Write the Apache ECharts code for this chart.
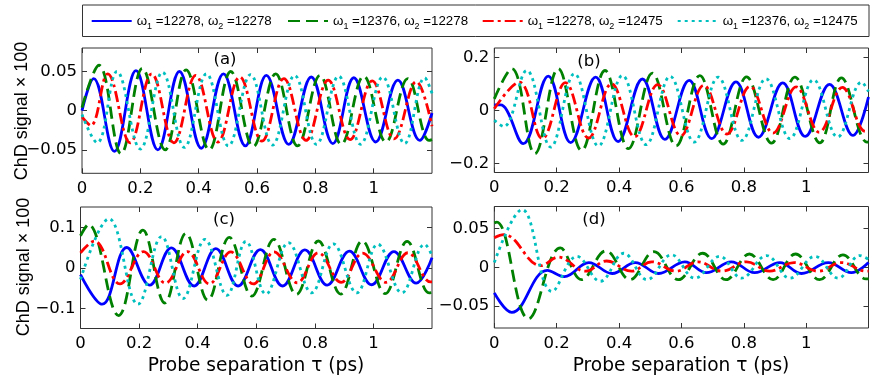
<!DOCTYPE html>
<html><head><meta charset="utf-8">
<script src="https://cdn.jsdelivr.net/npm/echarts@6/dist/echarts.min.js"></script>
<style>html,body{margin:0;padding:0;background:#fff}#c{width:875px;height:383px}</style>
</head><body><div id="c"></div>
<script>
// ---- data (tau in ps, ChD signal x 100) ----
const seriesNames = ['ω1 =12278, ω2 =12278', 'ω1 =12376, ω2 =12278', 'ω1 =12278, ω2 =12475', 'ω1 =12376, ω2 =12475'];
const panelLabels = ['(a)', '(b)', '(c)', '(d)'];
const xTicks = [0, 0.2, 0.4, 0.6, 0.8, 1];
const yTicksA = [-0.05, 0, 0.05];
const yTicksB = [-0.2, 0, 0.2];
const yTicksC = [-0.1, 0, 0.1];
const yTicksD = [-0.05, 0, 0.05];
const xTitle = 'Probe separation τ (ps)';
const yTitle = 'ChD signal × 100';

const aBlue = [[0,0.0],[0.04,0.041],[0.111,-0.052],[0.185,0.051],[0.26,-0.05],[0.334,0.05],[0.409,-0.048],[0.485,0.047],[0.56,-0.045],[0.632,0.045],[0.709,-0.043],[0.786,0.043],[0.86,-0.042],[0.932,0.042],[1.007,-0.04],[1.083,0.039],[1.158,-0.038],[1.2,-0.003]];
const aGreen = [[0,0.004],[0.058,0.058],[0.134,-0.055],[0.207,0.054],[0.285,-0.05],[0.357,0.052],[0.436,-0.05],[0.51,0.05],[0.587,-0.046],[0.664,0.047],[0.739,-0.045],[0.816,0.045],[0.889,-0.043],[0.966,0.044],[1.042,-0.04],[1.117,0.041],[1.19,-0.038],[1.2,-0.037]];
const aRed = [[0,-0.008],[0.03,-0.019],[0.088,0.047],[0.165,-0.041],[0.239,0.047],[0.315,-0.041],[0.39,0.045],[0.466,-0.04],[0.541,0.043],[0.617,-0.039],[0.692,0.041],[0.768,-0.038],[0.844,0.039],[0.919,-0.037],[0.995,0.038],[1.07,-0.036],[1.146,0.037],[1.2,-0.02]];
const aCyan = [[0,-0.005],[0.052,-0.041],[0.12,0.05],[0.2,-0.049],[0.276,0.049],[0.351,-0.047],[0.427,0.047],[0.502,-0.045],[0.578,0.046],[0.653,-0.044],[0.729,0.045],[0.804,-0.043],[0.88,0.044],[0.955,-0.043],[1.031,0.043],[1.106,-0.042],[1.175,0.042],[1.2,0.022]];

const bBlue = [[0,0.02],[0.02,0.02],[0.04,0.0],[0.093,-0.126],[0.173,0.129],[0.245,-0.122],[0.325,0.125],[0.397,-0.118],[0.475,0.118],[0.547,-0.11],[0.625,0.113],[0.697,-0.107],[0.775,0.107],[0.847,-0.102],[0.925,0.103],[0.997,-0.099],[1.075,0.098],[1.15,-0.095],[1.2,0.05]];
const bGreen = [[0,0.043],[0.056,0.157],[0.13,-0.164],[0.205,0.157],[0.28,-0.152],[0.355,0.15],[0.43,-0.145],[0.507,0.14],[0.583,-0.135],[0.659,0.131],[0.734,-0.128],[0.809,0.126],[0.889,-0.124],[0.964,0.125],[1.044,-0.123],[1.113,0.122],[1.195,-0.12],[1.2,-0.119]];
const bRed = [[0,0.006],[0.08,0.106],[0.154,-0.107],[0.228,0.104],[0.302,-0.105],[0.376,0.1],[0.45,-0.1],[0.524,0.097],[0.598,-0.096],[0.672,0.094],[0.746,-0.09],[0.82,0.09],[0.894,-0.086],[0.968,0.088],[1.042,-0.083],[1.116,0.086],[1.19,-0.08],[1.2,-0.079]];
const bCyan = [[0,-0.038],[0.03,-0.062],[0.104,0.15],[0.181,-0.139],[0.257,0.138],[0.334,-0.135],[0.411,0.131],[0.487,-0.13],[0.564,0.128],[0.641,-0.12],[0.718,0.125],[0.794,-0.114],[0.871,0.119],[0.948,-0.107],[1.024,0.115],[1.101,-0.101],[1.178,0.106],[1.2,0.07]];

const cBlue = [[0,-0.017],[0.074,-0.09],[0.158,0.05],[0.236,-0.043],[0.31,0.049],[0.388,-0.045],[0.462,0.047],[0.538,-0.045],[0.614,0.045],[0.69,-0.045],[0.766,0.044],[0.842,-0.043],[0.918,0.041],[0.994,-0.042],[1.07,0.04],[1.146,-0.038],[1.2,0.025]];
const cGreen = [[0,0.079],[0.027,0.107],[0.13,-0.118],[0.213,0.093],[0.288,-0.087],[0.36,0.085],[0.435,-0.08],[0.508,0.075],[0.585,-0.07],[0.66,0.07],[0.737,-0.066],[0.812,0.066],[0.888,-0.065],[0.962,0.066],[1.04,-0.064],[1.115,0.065],[1.19,-0.062],[1.2,-0.061]];
const cRed = [[0,0.037],[0.047,0.066],[0.135,-0.04],[0.215,0.04],[0.29,-0.038],[0.365,0.04],[0.44,-0.04],[0.513,0.039],[0.59,-0.04],[0.661,0.039],[0.74,-0.037],[0.812,0.037],[0.89,-0.036],[0.963,0.036],[1.043,-0.036],[1.118,0.037],[1.195,-0.035],[1.2,-0.035]];
const cCyan = [[0,-0.029],[0.097,0.121],[0.196,-0.09],[0.277,0.077],[0.35,-0.076],[0.425,0.07],[0.5,-0.068],[0.565,0.065],[0.633,-0.065],[0.71,0.062],[0.789,-0.062],[0.863,0.059],[0.943,-0.062],[1.015,0.058],[1.097,-0.062],[1.175,0.058],[1.2,0.03]];

const dBlue = [[0,-0.033],[0.056,-0.058],[0.17,-0.004],[0.225,-0.012],[0.303,0.006],[0.378,-0.008],[0.452,0.006],[0.527,-0.008],[0.611,0.007],[0.68,-0.007],[0.76,0.007],[0.835,-0.007],[0.916,0.006],[0.985,-0.008],[1.071,0.006],[1.145,-0.007],[1.2,0.006]];
const dGreen = [[0,0.057],[0.008,0.058],[0.11,-0.066],[0.212,0.025],[0.28,-0.016],[0.358,0.021],[0.435,-0.016],[0.512,0.02],[0.59,-0.016],[0.668,0.018],[0.743,-0.016],[0.818,0.017],[0.894,-0.016],[0.966,0.017],[1.043,-0.016],[1.118,0.016],[1.192,-0.015],[1.2,-0.015]];
const dRed = [[0,0.038],[0.03,0.042],[0.15,0.002],[0.205,0.013],[0.292,-0.005],[0.36,0.008],[0.44,-0.005],[0.505,0.007],[0.583,-0.005],[0.653,0.007],[0.73,-0.005],[0.809,0.007],[0.883,-0.005],[0.961,0.006],[1.038,-0.005],[1.113,0.006],[1.194,-0.005],[1.2,-0.005]];
const dCyan = [[0,0.006],[0.089,0.074],[0.185,-0.031],[0.265,0.014],[0.34,-0.018],[0.415,0.018],[0.49,-0.016],[0.568,0.016],[0.643,-0.014],[0.723,0.014],[0.793,-0.014],[0.873,0.015],[0.948,-0.014],[1.028,0.014],[1.103,-0.014],[1.172,0.015],[1.2,0.01]];

// ---- chart ----
const panelData = [[aBlue, aGreen, aRed, aCyan], [bBlue, bGreen, bRed, bCyan], [cBlue, cGreen, cRed, cCyan], [dBlue, dGreen, dRed, dCyan]];
const yTicks = [yTicksA, yTicksB, yTicksC, yTicksD];
const yLim = [0.08, 0.235, 0.15, 0.078];
const axisColor = '#333';
const gridBox = {show: true, borderColor: axisColor, borderWidth: 1, backgroundColor: 'transparent'};
const grids = [
  Object.assign({left: 82, top: 48, width: 350, height: 125.3}, gridBox),
  Object.assign({left: 494.3, top: 48, width: 374.2, height: 124.5}, gridBox),
  Object.assign({left: 80.5, top: 207, width: 351.5, height: 121.5}, gridBox),
  Object.assign({left: 494.3, top: 206.5, width: 374.2, height: 121.5}, gridBox)
];
const colors = ['#0000ff', '#008000', '#ff0000', '#00bfbf'];
const dashes = ['solid', [12, 6], [11, 4, 3, 4], [3, 4]];
const tickFont = {fontFamily: 'DejaVu Sans', fontSize: 16.5, color: '#000'};
const fmt = v => v === 0 ? '0' : (v < 0 ? '\u2212' + String(+(-v).toFixed(4)) : String(+v.toFixed(4)));

const xAxes = [], yAxes = [], series = [];
grids.forEach((g, i) => {
  const common = {gridIndex: i, type: 'value', splitLine: {show: false},
    axisLine: {show: false, onZero: false}};
  const tick = vals => ({inside: true, length: 5, customValues: vals, lineStyle: {color: axisColor}});
  xAxes.push(Object.assign({}, common, {position: 'bottom', min: 0, max: 1.2, axisTick: tick(xTicks),
    axisLabel: Object.assign({customValues: xTicks, formatter: fmt, margin: 7}, tickFont)}));
  xAxes.push(Object.assign({}, common, {position: 'top', min: 0, max: 1.2, axisTick: tick(xTicks),
    axisLabel: {show: false}}));
  yAxes.push(Object.assign({}, common, {position: 'left', min: -yLim[i], max: yLim[i], axisTick: tick(yTicks[i]),
    axisLabel: Object.assign({customValues: yTicks[i], formatter: fmt, margin: 5}, tickFont)}));
  yAxes.push(Object.assign({}, common, {position: 'right', min: -yLim[i], max: yLim[i], axisTick: tick(yTicks[i]),
    axisLabel: {show: false}}));
  panelData[i].forEach((d, k) => {
    series.push({type: 'line', name: seriesNames[k], data: d, xAxisIndex: 2 * i, yAxisIndex: 2 * i,
      symbol: 'none', smooth: 0.4, animation: false, silent: true, z: 2 + k,
      lineStyle: {color: colors[k], width: 2.8, type: dashes[k], cap: 'butt'},
      itemStyle: {color: colors[k]}});
  });
});

const legendLeft = [90.7, 287, 481.7, 676.7];
const legends = seriesNames.map((n, k) => ({
  data: [n], left: legendLeft[k], top: 11, padding: 0, itemWidth: 40, itemHeight: 14, itemGap: 0,
  selectedMode: false,
  itemStyle: {opacity: 0},
  formatter: name => name.replace(/ω(\d)/g, 'ω{s|$1}'),
  textStyle: {fontFamily: 'Liberation Sans', fontSize: 13.3, color: '#000', lineHeight: 20,
    rich: {s: {fontFamily: 'Liberation Sans', fontSize: 9, lineHeight: 12, verticalAlign: 'bottom', color: '#000'}}}
}));

const txt = (s, x, y, size, family, rot) => ({type: 'text', x: x, y: y, rotation: rot || 0, z: 100,
  style: {text: s, fontFamily: family, fontSize: size, fill: '#000', align: 'center', verticalAlign: 'middle'}});

const graphic = [
  {type: 'rect', shape: {x: 82.5, y: 5, width: 786.5, height: 31.5}, style: {fill: '#fff', stroke: axisColor, lineWidth: 1}, z: -1},
  txt(yTitle, 22, 111, 18, 'Liberation Sans', Math.PI / 2),
  txt(yTitle, 24, 267, 18, 'Liberation Sans', Math.PI / 2),
  txt(xTitle, 256, 366, 18.6, 'DejaVu Sans'),
  txt(xTitle, 681, 366, 18.6, 'DejaVu Sans'),
  txt(panelLabels[0], 225, 60, 16.5, 'DejaVu Sans'),
  txt(panelLabels[1], 589, 62, 16.5, 'DejaVu Sans'),
  txt(panelLabels[2], 224, 220, 16.5, 'DejaVu Sans'),
  txt(panelLabels[3], 594, 220, 16.5, 'DejaVu Sans')
];

const chart = echarts.init(document.getElementById('c'), null, {renderer: 'canvas'});
chart.setOption({
  animation: false,
  backgroundColor: '#fff',
  grid: grids,
  xAxis: xAxes,
  yAxis: yAxes,
  legend: legends,
  graphic: graphic,
  series: series
});
</script></body></html>
